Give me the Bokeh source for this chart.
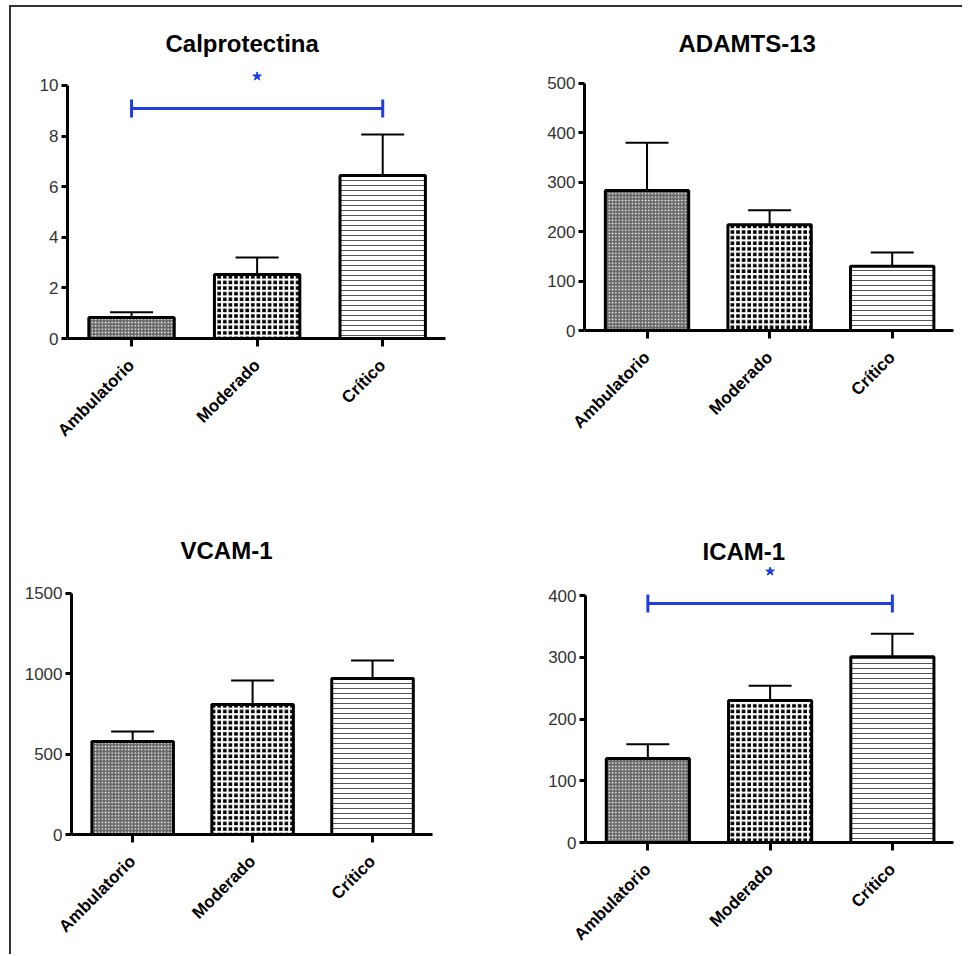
import math
from bokeh.plotting import figure
from bokeh.models import ColumnDataSource, Whisker, TeeHead, FixedTicker, Range1d
from bokeh.layouts import row, column
from bokeh.embed import file_html
from bokeh.resources import INLINE

# ---------------- data ----------------
categories = ["Ambulatorio", "Moderado", "Crítico"]

calpro_mean = [0.83, 2.53, 6.44]
calpro_sem = [0.21, 0.67, 1.62]
adamts_mean = [283, 214, 130]
adamts_sem = [97, 29, 28]
vcam_mean = [579, 809, 971]
vcam_sem = [62, 149, 112]
icam_mean = [136, 230, 301]
icam_sem = [23, 24, 37]

calpro_ticks = [0, 2, 4, 6, 8, 10]
adamts_ticks = [0, 100, 200, 300, 400, 500]
vcam_ticks = [0, 500, 1000, 1500]
icam_ticks = [0, 100, 200, 300, 400]

# significance brackets: from category index, to category index, bracket level, star level
calpro_sig_from = [0]
calpro_sig_to = [2]
calpro_sig_level = [9.09]
calpro_star_level = [10.36]
icam_sig_from = [0]
icam_sig_to = [2]
icam_sig_level = [387]
icam_star_level = [439]

# ---------------- styles ----------------
FONT = "Liberation Sans"
bar_fill = ["#666666", "black", "white"]
bar_hatch = ["dot", "+", "-"]
bar_hatch_scale = [3.3, 5.6, 5.0]
bar_hatch_weight = [2.0, 2.0, 1.0]
bar_hatch_color = ["white", "white", "#555555"]
SIG_COLOR = "#1f3de0"


def make_panel(title, means, sems, ticks, y_end, width, height, borders,
               standoff, title_offset, sig=None):
    bl, br, bt, bb = borders
    p = figure(width=width, height=height, output_backend="svg",
               toolbar_location=None, x_range=Range1d(-0.51, 2.5),
               y_range=Range1d(0, y_end), min_border_left=bl,
               min_border_right=br, min_border_top=bt, min_border_bottom=bb)
    p.outline_line_color = None
    p.xgrid.visible = False
    p.ygrid.visible = False
    p.background_fill_color = "white"
    p.border_fill_color = "white"

    p.title.text = title
    p.title.align = "left"
    p.title.offset = title_offset
    p.title.text_font = FONT
    p.title.text_font_size = "24px"
    p.title.text_font_style = "bold"
    p.title.text_color = "black"
    p.title.standoff = standoff

    idx = list(range(len(categories)))
    src = ColumnDataSource(dict(
        x=idx, top=means, upper=[m + s for m, s in zip(means, sems)],
        fill=bar_fill, hatch=bar_hatch, hscale=bar_hatch_scale,
        hweight=bar_hatch_weight, hcolor=bar_hatch_color))

    p.vbar(x="x", top="top", width=0.68, source=src, fill_color="fill",
           line_color="black", line_width=3, hatch_pattern="hatch",
           hatch_scale="hscale", hatch_weight="hweight", hatch_color="hcolor")

    w = Whisker(source=src, base="x", lower="top", upper="upper",
                dimension="height", line_color="black", line_width=2,
                lower_head=None,
                upper_head=TeeHead(size=43, line_color="black", line_width=2),
                level="glyph")
    p.add_layout(w)

    if sig is not None:
        sfrom, sto, slevel, sstar = sig
        ssrc = ColumnDataSource(dict(base=slevel, lower=sfrom, upper=sto,
                                     mid=[(a + b) / 2 for a, b in zip(sfrom, sto)],
                                     star=sstar))
        sw = Whisker(source=ssrc, base="base", lower="lower", upper="upper",
                     dimension="width", line_color=SIG_COLOR, line_width=3,
                     lower_head=TeeHead(size=18, line_color=SIG_COLOR, line_width=3),
                     upper_head=TeeHead(size=18, line_color=SIG_COLOR, line_width=3))
        p.add_layout(sw)
        p.scatter(x="mid", y="star", source=ssrc, marker="star", size=9,
                  fill_color=SIG_COLOR, line_color=SIG_COLOR)

    # y axis
    ya = p.yaxis[0]
    ya.ticker = FixedTicker(ticks=ticks)
    ya.bounds = (0, ticks[-1])
    ya.axis_line_width = 3
    ya.axis_line_color = "black"
    ya.major_tick_line_width = 3
    ya.major_tick_line_color = "black"
    ya.major_tick_out = 6
    ya.major_tick_in = 0
    ya.minor_tick_line_color = None
    ya.major_label_text_font = FONT
    ya.major_label_text_font_size = "17px"
    ya.major_label_text_color = "#333333"
    ya.major_label_standoff = 3

    # x axis
    xa = p.xaxis[0]
    xa.ticker = FixedTicker(ticks=idx)
    xa.major_label_overrides = {i: c for i, c in zip(idx, categories)}
    xa.major_label_orientation = math.pi / 4
    xa.axis_line_width = 3
    xa.axis_line_color = "black"
    xa.major_tick_line_width = 3
    xa.major_tick_line_color = "black"
    xa.major_tick_out = 8
    xa.major_tick_in = 0
    xa.minor_tick_line_color = None
    xa.major_label_text_font = FONT
    xa.major_label_text_font_size = "17px"
    xa.major_label_text_font_style = "bold"
    xa.major_label_text_color = "black"
    xa.major_label_standoff = 16
    return p


p1 = make_panel("Calprotectina", calpro_mean, calpro_sem, calpro_ticks, 10.79,
                474, 513, (56, 40, 58, 182), 18, 98,
                sig=(calpro_sig_from, calpro_sig_to, calpro_sig_level, calpro_star_level))
p2 = make_panel("ADAMTS-13", adamts_mean, adamts_sem, adamts_ticks, 536,
                477, 505, (99, 9, 58, 182), 18, 94)
p3 = make_panel("VCAM-1", vcam_mean, vcam_sem, vcam_ticks, 1668,
                474, 426, (60, 53, 46, 112), 5, 109)
p4 = make_panel("ICAM-1", icam_mean, icam_sem, icam_ticks, 447,
                477, 434, (100, 9, 46, 112), 4, 117,
                sig=(icam_sig_from, icam_sig_to, icam_sig_level, icam_star_level))

layout = column(row(p1, p2), row(p3, p4),
                styles={"margin-left": "9px", "margin-top": "5px",
                        "border-top": "2px solid #333333",
                        "border-left": "2px solid #333333"})

open("out.html", "w").write(file_html(layout, INLINE))
